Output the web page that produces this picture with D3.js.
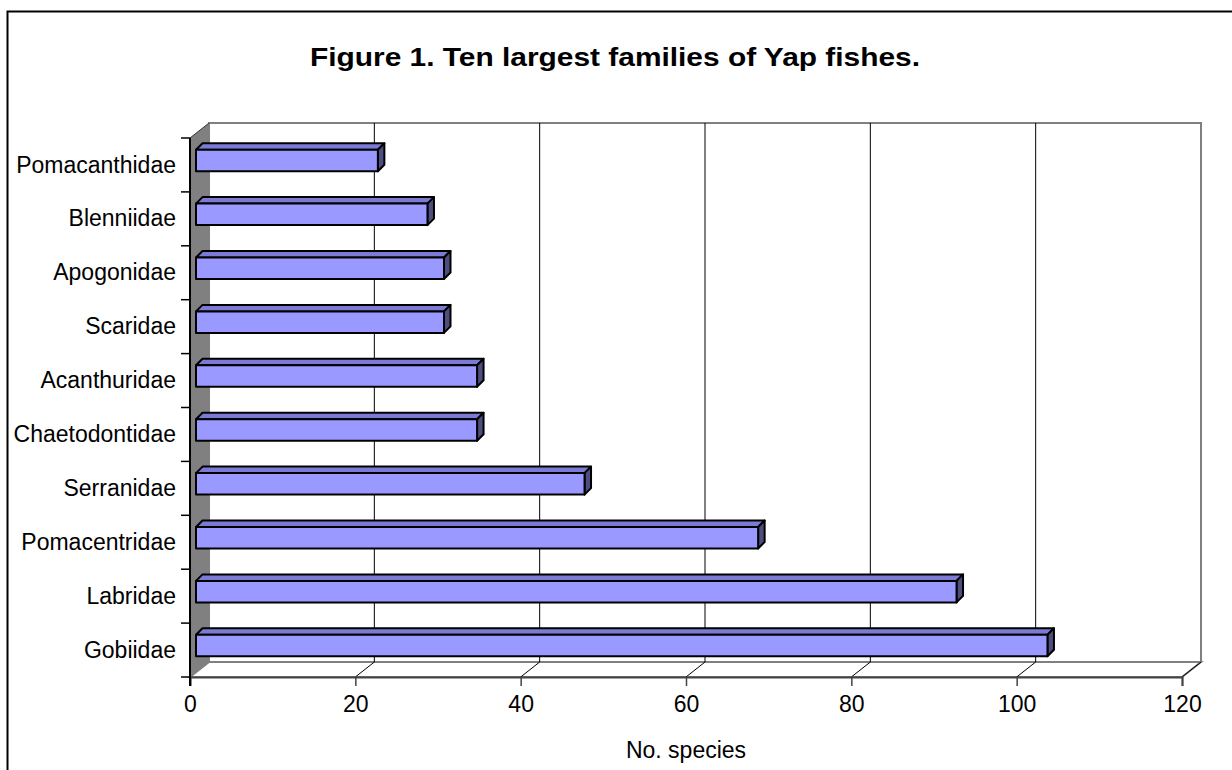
<!DOCTYPE html>
<html>
<head>
<meta charset="utf-8">
<script src="https://cdn.jsdelivr.net/npm/d3@7"></script>
<style>
  html, body { margin: 0; padding: 0; background: #fff; }
  svg { display: block; font-family: Arial, "Liberation Sans", sans-serif; }
</style>
</head>
<body>
<svg id="chart" width="1232" height="770"></svg>
<script>
// ---- data ----
const categories = ["Pomacanthidae", "Blenniidae", "Apogonidae", "Scaridae", "Acanthuridae",
                    "Chaetodontidae", "Serranidae", "Pomacentridae", "Labridae", "Gobiidae"];
const speciesCounts = [22, 28, 30, 30, 34, 34, 47, 68, 92, 103];
const xTicks = [0, 20, 40, 60, 80, 100, 120];
const titleText = "Figure 1. Ten largest families of Yap fishes.";
const xAxisTitle = "No. species";

// ---- layout ----
const svg = d3.select("#chart");
const W = 1232, H = 770;
const front = { left: 190, right: 1182, top: 138, bottom: 677 };
const DX = 19, DY = -15;          // depth offset of back wall
const BDX = 6.5, BDY = -6.5;      // bar depth
const BAR_OFF_X = 6, BAR_OFF_Y = -4.5; // bar front face depth position

const x = d3.scaleLinear().domain([0, 120]).range([front.left, front.right]);
const y = d3.scaleBand().domain(categories).range([front.top, front.bottom]);

// outer frame
svg.append("path")
  .attr("d", `M7.5,${H + 5} L7.5,11.5 L${W + 5},11.5`)
  .attr("fill", "none").attr("stroke", "#000").attr("stroke-width", 2);

// title
svg.append("text")
  .attr("x", 310).attr("y", 66)
  .attr("font-size", 26.5).attr("font-weight", "bold")
  .attr("textLength", 610).attr("lengthAdjust", "spacingAndGlyphs")
  .text(titleText);

const gray = "#808080";
const bx = v => x(v) + DX;
const backTop = front.top + DY, backBottom = front.bottom + DY;

// back wall
svg.append("rect")
  .attr("x", bx(0)).attr("y", backTop)
  .attr("width", bx(120) - bx(0)).attr("height", backBottom - backTop)
  .attr("fill", "#fff").attr("stroke", gray).attr("stroke-width", 2);

// floor
svg.append("path")
  .attr("d", `M${x(0)},${front.bottom} L${bx(0)},${backBottom} L${bx(120)},${backBottom} L${x(120)},${front.bottom} Z`)
  .attr("fill", "#fff").attr("stroke", gray).attr("stroke-width", 2);

// gridlines on back wall + floor diagonals
xTicks.slice(1, -1).forEach(t => {
  svg.append("line")
    .attr("x1", bx(t)).attr("x2", bx(t)).attr("y1", backTop).attr("y2", backBottom)
    .attr("stroke", "#000").attr("stroke-width", 1);
});
xTicks.slice(1).forEach(t => {
  svg.append("line")
    .attr("x1", bx(t)).attr("y1", backBottom).attr("x2", x(t)).attr("y2", front.bottom)
    .attr("stroke", "#000").attr("stroke-width", 1);
});

// left wall
svg.append("path")
  .attr("d", `M${x(0)},${front.top} L${bx(0)},${backTop} L${bx(0)},${backBottom} L${x(0)},${front.bottom} Z`)
  .attr("fill", gray).attr("stroke", "none");
svg.append("line")
  .attr("x1", x(0)).attr("y1", front.top).attr("x2", bx(0)).attr("y2", backTop)
  .attr("stroke", "#333").attr("stroke-width", 1);

// front x axis
const xAxis = d3.axisBottom(x).tickValues(xTicks).tickSize(9).tickPadding(6).tickFormat(d3.format("d"));
const gx = svg.append("g").attr("transform", `translate(0,${front.bottom})`).call(xAxis);
gx.select(".domain").attr("stroke", "#444").attr("stroke-width", 2);
gx.selectAll(".tick line").attr("stroke", "#444").attr("stroke-width", 1.5);
gx.selectAll(".tick text").attr("font-size", 23).attr("font-family", "Arial, 'Liberation Sans', sans-serif")
  .attr("fill", "#000").attr("y", 19).attr("dy", "0.71em");

// left y axis
const yAxis = d3.axisLeft(y).tickSize(0).tickPadding(14);
const gy = svg.append("g").attr("transform", `translate(${front.left},0)`).call(yAxis);
gy.select(".domain").remove();
gy.selectAll(".tick text").attr("font-size", 23).attr("font-family", "Arial, 'Liberation Sans', sans-serif")
  .attr("fill", "#000").attr("dy", "0.33em");
// category boundary ticks
const boundaries = categories.map(c => y(c)).concat([y.range()[1]]);
svg.selectAll(".ybound").data(boundaries).join("line")
  .attr("x1", front.left - 9).attr("x2", front.left)
  .attr("y1", d => d).attr("y2", d => d)
  .attr("stroke", "#000").attr("stroke-width", 1.5);
svg.append("line")
  .attr("x1", front.left).attr("x2", front.left)
  .attr("y1", front.top).attr("y2", front.bottom + 9)
  .attr("stroke", "#000").attr("stroke-width", 2);

// bars
const barH = 21.5;
const bars = svg.append("g");
categories.forEach((c, i) => {
  const v = speciesCounts[i];
  const cy = y(c) + y.bandwidth() / 2;
  const x0 = x(0) + BAR_OFF_X, x1 = x(v) + BAR_OFF_X;
  const yT = cy + BAR_OFF_Y - barH / 2, yB = yT + barH;
  const g = bars.append("g").attr("stroke", "#000").attr("stroke-width", 2).attr("stroke-linejoin", "round");
  // top face
  g.append("path")
    .attr("d", `M${x0},${yT} L${x0 + BDX},${yT + BDY} L${x1 + BDX},${yT + BDY} L${x1},${yT} Z`)
    .attr("fill", "#7b7bd6");
  // side face
  g.append("path")
    .attr("d", `M${x1},${yT} L${x1 + BDX},${yT + BDY} L${x1 + BDX},${yB + BDY} L${x1},${yB} Z`)
    .attr("fill", "#4d4d80");
  // front face
  g.append("rect")
    .attr("x", x0).attr("y", yT).attr("width", x1 - x0).attr("height", barH)
    .attr("fill", "#9999ff");
});

// x axis title
svg.append("text")
  .attr("x", (x(0) + x(120)) / 2).attr("y", 758)
  .attr("text-anchor", "middle").attr("font-size", 23)
  .text(xAxisTitle);
</script>
</body>
</html>
